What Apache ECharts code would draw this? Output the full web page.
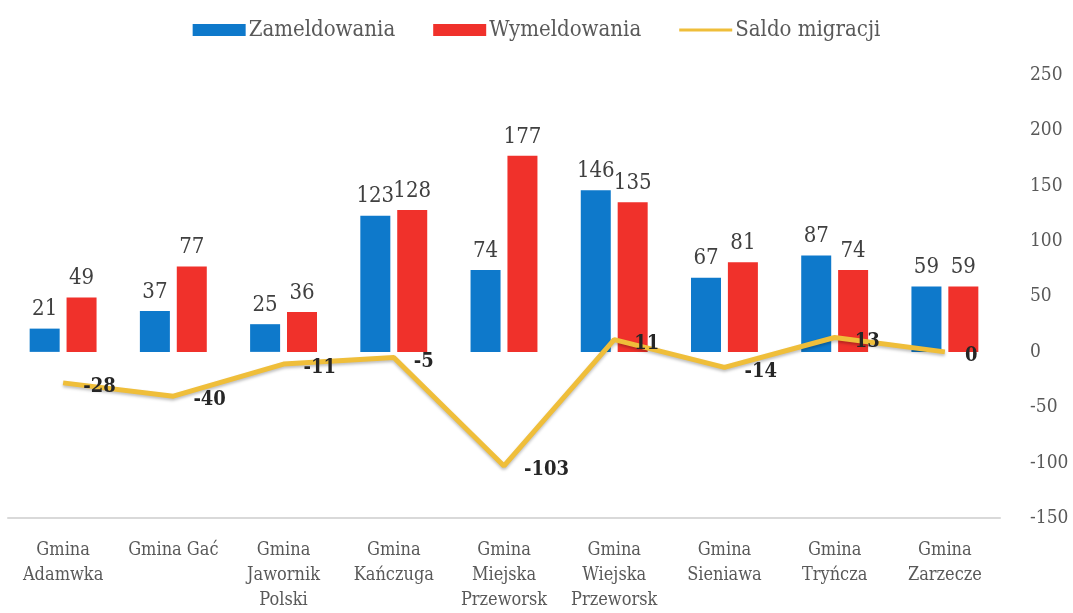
<!DOCTYPE html>
<html>
<head>
<meta charset="utf-8">
<script src="https://cdn.jsdelivr.net/npm/echarts@6/dist/echarts.min.js"></script>
<style>
html,body{margin:0;padding:0;background:#fff;}
#chart{width:1073px;height:613px;}
</style>
</head>
<body>
<div id="chart"></div>
<script>
const categories = ['Gmina\nAdamwka','Gmina Gać','Gmina\nJawornik\nPolski','Gmina\nKańczuga','Gmina\nMiejska\nPrzeworsk','Gmina\nWiejska\nPrzeworsk','Gmina\nSieniawa','Gmina\nTryńcza','Gmina\nZarzecze'];
const zameldowania = [21,37,25,123,74,146,67,87,59];
const wymeldowania = [49,77,36,128,177,135,81,74,59];
const saldo = [-28,-40,-11,-5,-103,11,-14,13,0];
const FONT = "'DejaVu Serif Condensed','DejaVu Serif',serif";

const chart = echarts.init(document.getElementById('chart'));
chart.setOption({
  animation:false,
  textStyle:{fontFamily:FONT},
  legend:{
    top:14, left:'center', itemWidth:53, itemHeight:12, itemGap:38,
    textStyle:{fontFamily:FONT,fontSize:22,color:'#595959',padding:[0,0,0,-2]},
    data:[
      {name:'Zameldowania',icon:'rect'},
      {name:'Wymeldowania',icon:'rect'},
      {name:'Saldo migracji',icon:'path://M0,0L0.01,0M0,4.5L53,4.5L53,7.5L0,7.5ZM53,12L52.99,12',itemStyle:{color:'#EFBE3A'}}
    ]
  },
  grid:{left:8,right:73,top:75,bottom:95,containLabel:false},
  xAxis:{
    type:'category', data:categories,
    axisLine:{onZero:false,lineStyle:{color:'#d9d9d9',width:2}},
    axisTick:{show:false},
    axisLabel:{interval:0,margin:20,fontFamily:FONT,fontSize:18,color:'#595959',lineHeight:25}
  },
  yAxis:{
    type:'value', position:'right', min:-150, max:250, interval:50,
    axisLine:{show:false}, axisTick:{show:false}, splitLine:{show:false},
    axisLabel:{margin:30,align:'left',fontFamily:FONT,fontSize:19,color:'#595959',padding:[6,0,0,0]}
  },
  series:[
    {name:'Zameldowania',type:'bar',data:zameldowania,barWidth:30,barGap:'23%',
     itemStyle:{color:'#0E79CB'},
     label:{show:true,position:'top',distance:8,fontFamily:FONT,fontSize:22,color:'#404040'}},
    {name:'Wymeldowania',type:'bar',data:wymeldowania,barWidth:30,
     itemStyle:{color:'#F0312B'},
     label:{show:true,position:'top',distance:8,fontFamily:FONT,fontSize:22,color:'#404040'}},
    {name:'Saldo migracji',type:'line',data:saldo,symbol:'circle',symbolSize:0.1,showSymbol:true,z:5,
     lineStyle:{color:'#EFBE3A',width:5,shadowColor:'rgba(0,0,0,0.25)',shadowBlur:3,shadowOffsetY:2},
     itemStyle:{color:'#EFBE3A'},
     label:{show:true,position:'right',distance:20,offset:[0,4],fontFamily:FONT,fontSize:20,fontWeight:'bold',color:'#262626'}}
  ]
});
</script>
</body>
</html>
